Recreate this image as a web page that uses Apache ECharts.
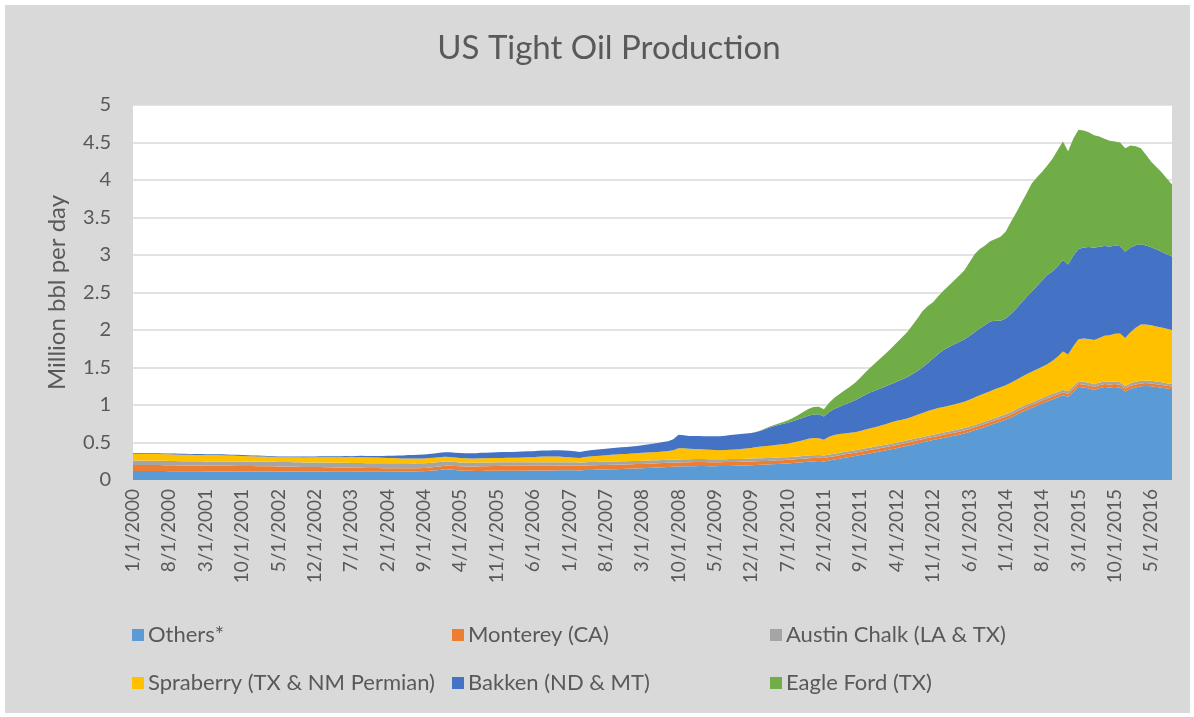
<!DOCTYPE html>
<html>
<head>
<meta charset="utf-8">
<script src="https://cdn.jsdelivr.net/npm/echarts@6/dist/echarts.min.js"></script>
<style>
html,body{margin:0;padding:0;background:#ffffff;}
#chart{position:absolute;left:0;top:0;width:1194px;height:717px;}
</style>
</head>
<body>
<div id="chart"></div>
<script>
// Monthly categories: 1/1/2000 .. 9/1/2016
const startYear = 2000;
const monthCount = 201;
const categories = [];
for (let k = 0; k < monthCount; k++) {
  const y = startYear + Math.floor(k / 12);
  const m = (k % 12) + 1;
  categories.push(m + '/1/' + y);
}

const seriesNames = ['Others*', 'Monterey (CA)', 'Austin Chalk (LA & TX)', 'Spraberry (TX & NM Permian)', 'Bakken (ND & MT)', 'Eagle Ford (TX)'];

const others = [
  0.120,0.120,0.120,0.120,0.120,0.120,0.120,0.118,0.118,0.117,0.117,0.116,
  0.116,0.116,0.115,0.115,0.115,0.115,0.115,0.115,0.115,0.114,0.114,0.114,
  0.114,0.114,0.114,0.114,0.113,0.113,0.113,0.113,0.113,0.112,0.112,0.112,
  0.112,0.112,0.111,0.111,0.111,0.111,0.110,0.110,0.110,0.110,0.110,0.110,
  0.110,0.110,0.111,0.111,0.112,0.113,0.114,0.116,0.118,0.122,0.128,0.135,
  0.142,0.140,0.134,0.128,0.124,0.122,0.121,0.121,0.122,0.122,0.123,0.123,
  0.124,0.124,0.125,0.125,0.126,0.126,0.127,0.127,0.128,0.128,0.129,0.129,
  0.130,0.131,0.128,0.133,0.135,0.137,0.139,0.141,0.143,0.145,0.147,0.149,
  0.152,0.155,0.158,0.161,0.164,0.167,0.170,0.173,0.176,0.180,0.182,0.184,
  0.185,0.186,0.186,0.185,0.185,0.186,0.187,0.188,0.190,0.192,0.195,0.198,
  0.201,0.203,0.206,0.209,0.213,0.217,0.221,0.226,0.232,0.238,0.244,0.248,
  0.252,0.246,0.260,0.272,0.285,0.297,0.308,0.320,0.332,0.345,0.358,0.370,
  0.383,0.396,0.410,0.425,0.440,0.455,0.470,0.486,0.502,0.518,0.532,0.546,
  0.560,0.574,0.589,0.604,0.620,0.640,0.662,0.685,0.708,0.732,0.756,0.780,
  0.805,0.835,0.870,0.905,0.935,0.962,0.990,1.020,1.050,1.075,1.100,1.130,
  1.110,1.180,1.240,1.235,1.220,1.200,1.225,1.240,1.235,1.240,1.230,1.180,
  1.215,1.235,1.250,1.255,1.250,1.240,1.230,1.220,1.210
];

const monterey = [
  0.080,0.080,0.080,0.079,0.079,0.079,0.078,0.078,0.078,0.077,0.077,0.077,
  0.076,0.076,0.076,0.075,0.075,0.075,0.074,0.074,0.073,0.073,0.072,0.072,
  0.071,0.071,0.070,0.069,0.068,0.067,0.066,0.065,0.064,0.063,0.062,0.061,
  0.060,0.059,0.058,0.057,0.056,0.055,0.054,0.053,0.052,0.051,0.050,0.049,
  0.048,0.047,0.046,0.045,0.044,0.043,0.042,0.042,0.042,0.043,0.044,0.046,
  0.048,0.050,0.052,0.054,0.056,0.058,0.060,0.062,0.063,0.064,0.065,0.066,
  0.066,0.066,0.065,0.065,0.065,0.064,0.064,0.064,0.063,0.063,0.063,0.062,
  0.062,0.062,0.061,0.061,0.061,0.060,0.060,0.060,0.059,0.059,0.059,0.058,
  0.058,0.058,0.057,0.057,0.057,0.056,0.056,0.056,0.055,0.055,0.055,0.054,
  0.054,0.054,0.053,0.053,0.053,0.052,0.052,0.052,0.051,0.051,0.051,0.050,
  0.050,0.050,0.049,0.049,0.049,0.048,0.048,0.048,0.047,0.047,0.047,0.046,
  0.046,0.046,0.046,0.045,0.045,0.045,0.045,0.045,0.044,0.044,0.044,0.044,
  0.044,0.044,0.043,0.043,0.043,0.043,0.043,0.043,0.042,0.042,0.042,0.042,
  0.042,0.042,0.042,0.041,0.041,0.041,0.041,0.041,0.041,0.041,0.040,0.040,
  0.040,0.040,0.040,0.040,0.040,0.040,0.040,0.040,0.040,0.040,0.040,0.040,
  0.040,0.040,0.040,0.040,0.040,0.040,0.039,0.039,0.039,0.039,0.039,0.039,
  0.039,0.039,0.038,0.038,0.038,0.038,0.038,0.038,0.038
];

const austinChalk = [
  0.060,0.060,0.060,0.059,0.059,0.059,0.058,0.058,0.058,0.057,0.057,0.057,
  0.057,0.057,0.057,0.057,0.058,0.058,0.058,0.058,0.059,0.059,0.059,0.059,
  0.060,0.060,0.060,0.060,0.060,0.060,0.060,0.060,0.060,0.060,0.061,0.061,
  0.061,0.061,0.062,0.062,0.062,0.063,0.063,0.063,0.064,0.064,0.064,0.065,
  0.065,0.065,0.066,0.066,0.066,0.066,0.065,0.064,0.063,0.062,0.060,0.058,
  0.056,0.055,0.054,0.053,0.052,0.051,0.050,0.050,0.049,0.049,0.048,0.048,
  0.048,0.047,0.047,0.047,0.046,0.046,0.046,0.046,0.045,0.045,0.045,0.045,
  0.045,0.045,0.044,0.044,0.044,0.044,0.043,0.043,0.043,0.043,0.043,0.042,
  0.042,0.042,0.042,0.042,0.041,0.041,0.041,0.041,0.041,0.040,0.040,0.040,
  0.040,0.040,0.040,0.039,0.039,0.039,0.039,0.039,0.038,0.038,0.038,0.038,
  0.038,0.038,0.037,0.037,0.037,0.037,0.036,0.036,0.036,0.036,0.035,0.035,
  0.035,0.035,0.035,0.034,0.034,0.034,0.034,0.033,0.033,0.033,0.033,0.033,
  0.032,0.032,0.032,0.032,0.032,0.031,0.031,0.031,0.031,0.031,0.031,0.031,
  0.031,0.031,0.031,0.031,0.031,0.031,0.031,0.031,0.032,0.032,0.032,0.032,
  0.032,0.032,0.033,0.033,0.033,0.033,0.034,0.034,0.034,0.034,0.035,0.035,
  0.035,0.035,0.036,0.036,0.036,0.036,0.036,0.036,0.036,0.036,0.035,0.035,
  0.035,0.035,0.035,0.034,0.034,0.034,0.034,0.033,0.033
];

const spraberry = [
  0.090,0.090,0.089,0.089,0.089,0.088,0.088,0.088,0.087,0.087,0.087,0.086,
  0.086,0.086,0.085,0.085,0.084,0.083,0.081,0.079,0.077,0.075,0.073,0.071,
  0.069,0.067,0.065,0.063,0.061,0.062,0.063,0.064,0.065,0.066,0.067,0.068,
  0.069,0.070,0.071,0.072,0.073,0.074,0.075,0.076,0.078,0.077,0.076,0.075,
  0.073,0.071,0.069,0.067,0.065,0.065,0.065,0.065,0.065,0.065,0.065,0.065,
  0.065,0.063,0.061,0.059,0.057,0.055,0.055,0.056,0.056,0.057,0.057,0.058,
  0.058,0.059,0.060,0.063,0.066,0.069,0.072,0.075,0.078,0.078,0.077,0.072,
  0.065,0.060,0.062,0.068,0.074,0.079,0.083,0.087,0.091,0.094,0.097,0.099,
  0.101,0.103,0.105,0.107,0.109,0.110,0.113,0.118,0.126,0.150,0.145,0.140,
  0.136,0.132,0.128,0.125,0.122,0.120,0.122,0.125,0.128,0.131,0.135,0.140,
  0.150,0.155,0.160,0.165,0.170,0.175,0.180,0.190,0.200,0.210,0.225,0.230,
  0.225,0.210,0.235,0.250,0.248,0.245,0.242,0.240,0.245,0.250,0.255,0.260,
  0.268,0.276,0.284,0.290,0.290,0.292,0.300,0.310,0.320,0.330,0.335,0.340,
  0.342,0.344,0.346,0.348,0.352,0.358,0.366,0.372,0.376,0.380,0.384,0.386,
  0.388,0.390,0.392,0.396,0.402,0.408,0.412,0.416,0.420,0.440,0.470,0.510,
  0.490,0.530,0.560,0.575,0.585,0.590,0.595,0.610,0.620,0.635,0.650,0.640,
  0.680,0.720,0.750,0.745,0.740,0.735,0.730,0.725,0.720
];

const bakken = [
  0.010,0.010,0.010,0.010,0.010,0.010,0.010,0.010,0.011,0.011,0.011,0.011,
  0.011,0.011,0.011,0.011,0.011,0.012,0.012,0.012,0.012,0.012,0.012,0.012,
  0.012,0.012,0.012,0.012,0.012,0.012,0.013,0.013,0.013,0.013,0.013,0.013,
  0.014,0.014,0.014,0.015,0.015,0.016,0.016,0.017,0.018,0.019,0.020,0.022,
  0.025,0.029,0.033,0.037,0.041,0.045,0.048,0.051,0.053,0.055,0.057,0.059,
  0.060,0.062,0.064,0.066,0.068,0.070,0.072,0.073,0.074,0.075,0.076,0.077,
  0.078,0.078,0.079,0.079,0.080,0.080,0.080,0.080,0.081,0.082,0.084,0.086,
  0.088,0.084,0.080,0.082,0.084,0.085,0.086,0.087,0.088,0.089,0.090,0.091,
  0.093,0.096,0.100,0.105,0.112,0.120,0.126,0.130,0.145,0.180,0.175,0.170,
  0.172,0.175,0.178,0.181,0.184,0.187,0.190,0.195,0.200,0.200,0.200,0.200,
  0.200,0.215,0.235,0.250,0.260,0.270,0.278,0.285,0.293,0.300,0.307,0.313,
  0.320,0.310,0.330,0.345,0.365,0.385,0.405,0.425,0.445,0.465,0.480,0.490,
  0.498,0.505,0.511,0.520,0.535,0.550,0.565,0.585,0.610,0.640,0.680,0.720,
  0.760,0.780,0.800,0.815,0.830,0.850,0.870,0.890,0.910,0.930,0.910,0.885,
  0.890,0.915,0.950,0.990,1.030,1.070,1.110,1.150,1.190,1.195,1.205,1.220,
  1.200,1.205,1.205,1.215,1.225,1.230,1.215,1.195,1.185,1.175,1.165,1.150,
  1.130,1.100,1.070,1.055,1.040,1.025,1.010,0.995,0.980
];

const eagleFord = [
  0,0,0,0,0,0,0,0,0,0,0,0,
  0,0,0,0,0,0,0,0,0,0,0,0,
  0,0,0,0,0,0,0,0,0,0,0,0,
  0,0,0,0,0,0,0,0,0,0,0,0,
  0,0,0,0,0,0,0,0,0,0,0,0,
  0,0,0,0,0,0,0,0,0,0,0,0,
  0,0,0,0,0,0,0,0,0,0,0,0,
  0,0,0,0,0,0,0,0,0,0,0,0,
  0,0,0,0,0,0,0,0,0,0,0,0,
  0,0,0,0,0,0,0,0,0,0,0,0.002,
  0.004,0.006,0.009,0.013,0.018,0.024,0.032,0.042,0.055,0.075,0.090,0.100,
  0.100,0.098,0.125,0.150,0.170,0.190,0.210,0.235,0.265,0.300,0.335,0.370,
  0.405,0.440,0.480,0.520,0.560,0.600,0.650,0.700,0.750,0.760,0.750,0.770,
  0.790,0.820,0.850,0.885,0.920,0.980,1.040,1.060,1.060,1.070,1.090,1.120,
  1.160,1.230,1.280,1.330,1.380,1.440,1.450,1.450,1.460,1.500,1.550,1.580,
  1.510,1.560,1.590,1.560,1.530,1.500,1.470,1.430,1.410,1.390,1.380,1.380,
  1.360,1.320,1.280,1.210,1.140,1.100,1.060,1.010,0.960
];

const seriesData = [others, monterey, austinChalk, spraberry, bakken, eagleFord];
const colors = ['#5B9BD5', '#ED7D31', '#A5A5A5', '#FFC000', '#4472C4', '#70AD47'];

const FONT = 'Lato, "Open Sans", sans-serif';
const TXT = '#595959';

const chart = echarts.init(document.getElementById('chart'), null, {renderer: 'canvas'});

const legendPos = [
  {left: 132, top: 624},
  {left: 452, top: 624},
  {left: 770, top: 624},
  {left: 132, top: 672},
  {left: 452, top: 672},
  {left: 770, top: 672}
];

const legends = seriesNames.map((n, i) => ({
  data: [n],
  left: legendPos[i].left,
  top: legendPos[i].top,
  icon: 'rect',
  itemWidth: 12,
  itemHeight: 12,
  itemGap: 0,
  padding: 0,
  selectedMode: false,
  textStyle: {fontFamily: FONT, fontSize: 22, color: TXT, padding: [0, 0, 0, -1]}
}));

chart.setOption({
  animation: false,
  backgroundColor: '#ffffff',
  color: colors,
  graphic: [{
    type: 'rect', z: -10, silent: true,
    shape: {x: 5, y: 5, width: 1185, height: 708},
    style: {fill: '#D9D9D9'}
  }],
  title: {
    text: 'US Tight Oil Production',
    left: 604, top: 27, textAlign: 'center',
    textStyle: {fontFamily: FONT, fontSize: 33, fontWeight: 'normal', color: TXT}
  },
  legend: legends,
  grid: {
    left: 133, right: 22, top: 105, bottom: 237,
    show: true, backgroundColor: '#ffffff', borderWidth: 0
  },
  xAxis: {
    type: 'category',
    data: categories,
    boundaryGap: false,
    axisLine: {show: false},
    axisTick: {show: false},
    axisLabel: {
      interval: 6, rotate: 90, margin: 9,
      fontFamily: FONT, fontSize: 19, color: TXT
    },
    splitLine: {show: false}
  },
  yAxis: {
    type: 'value',
    min: 0, max: 5, interval: 0.5,
    name: 'Million bbl per day',
    nameLocation: 'middle',
    nameGap: 64,
    nameRotate: 90,
    nameTextStyle: {fontFamily: FONT, fontSize: 24, color: TXT},
    axisLine: {show: false},
    axisTick: {show: false},
    axisLabel: {margin: 22, fontFamily: FONT, fontSize: 20, color: TXT},
    splitLine: {lineStyle: {color: '#D9D9D9', width: 1.5}}
  },
  series: seriesNames.map((n, i) => ({
    name: n,
    type: 'line',
    stack: 'total',
    data: seriesData[i],
    symbol: 'none',
    showSymbol: false,
    lineStyle: {width: 0, opacity: 0},
    areaStyle: {color: colors[i], opacity: 1},
    itemStyle: {color: colors[i]}
  }))
});
</script>
</body>
</html>
